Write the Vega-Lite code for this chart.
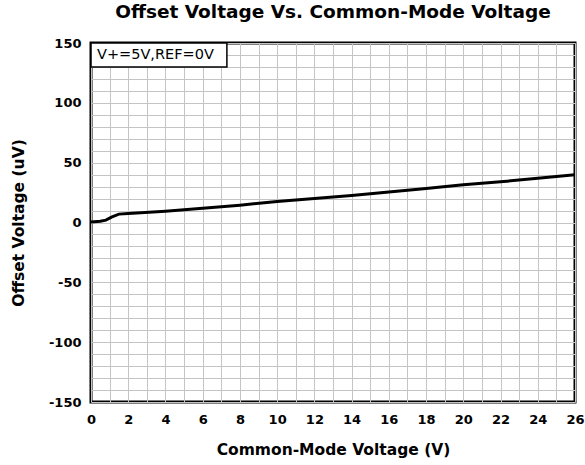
{
  "$schema": "https://vega.github.io/schema/vega-lite/v6.json",
  "autosize": "none",
  "width": 484,
  "height": 359,
  "padding": {"left": 91, "top": 43, "right": 10, "bottom": 63},
  "background": "white",
  "title": {
    "text": "Offset Voltage Vs. Common-Mode Voltage",
    "font": "DejaVu Sans",
    "fontSize": 18.5,
    "fontWeight": "bold",
    "color": "black",
    "anchor": "middle",
    "offset": 16
  },
  "config": {
    "view": {"stroke": "black", "strokeWidth": 3},
    "axis": {
      "labelFont": "DejaVu Sans",
      "labelFontWeight": "bold",
      "labelFontSize": 13,
      "labelColor": "black",
      "labelOverlap": false,
      "labelBound": false,
      "labelFlush": false,
      "tickCount": 100,
      "titleFont": "DejaVu Sans",
      "titleFontWeight": "bold",
      "titleFontSize": 15.5,
      "titleColor": "black",
      "grid": true,
      "gridColor": "#c4c4c4",
      "gridWidth": 1,
      "domain": false,
      "ticks": false
    }
  },
  "layer": [
    {
      "data": {
        "values": [
          {"vcm": 0, "vos": 0.5},
          {"vcm": 0.5, "vos": 1},
          {"vcm": 0.8, "vos": 2},
          {"vcm": 1.1, "vos": 4.5},
          {"vcm": 1.5, "vos": 7},
          {"vcm": 2, "vos": 7.5},
          {"vcm": 4, "vos": 9.5},
          {"vcm": 6, "vos": 12},
          {"vcm": 8, "vos": 14.5},
          {"vcm": 10, "vos": 17.5},
          {"vcm": 12, "vos": 20},
          {"vcm": 14, "vos": 22.5},
          {"vcm": 16, "vos": 25.5},
          {"vcm": 18, "vos": 28.5},
          {"vcm": 20, "vos": 31.5},
          {"vcm": 22, "vos": 34},
          {"vcm": 24, "vos": 37},
          {"vcm": 26, "vos": 40}
        ]
      },
      "mark": {"type": "line", "color": "black", "strokeWidth": 3, "clip": true},
      "encoding": {
        "x": {
          "field": "vcm",
          "type": "quantitative",
          "scale": {"domain": [0, 26], "nice": false, "zero": false},
          "axis": {
            "title": "Common-Mode Voltage (V)",
            "values": [0,1,2,3,4,5,6,7,8,9,10,11,12,13,14,15,16,17,18,19,20,21,22,23,24,25,26],
            "labelExpr": "datum.value % 2 === 0 ? '' + datum.value : ''",
            "labelPadding": 11,
            "titlePadding": 16
          }
        },
        "y": {
          "field": "vos",
          "type": "quantitative",
          "scale": {"domain": [-150, 150], "nice": false},
          "axis": {
            "title": "Offset Voltage (uV)",
            "values": [-150,-140,-130,-120,-110,-100,-90,-80,-70,-60,-50,-40,-30,-20,-10,0,10,20,30,40,50,60,70,80,90,100,110,120,130,140,150],
            "labelExpr": "datum.value % 50 === 0 ? '' + datum.value : ''",
            "labelPadding": 10,
            "titlePadding": 22
          }
        }
      }
    },
    {
      "data": {"values": [{"label": "V+=5V,REF=0V"}]},
      "mark": {"type": "rect", "fill": "white", "stroke": "black", "strokeWidth": 1.5},
      "encoding": {
        "x": {"datum": 0},
        "x2": {"datum": 7.3},
        "y": {"datum": 150},
        "y2": {"datum": 130}
      }
    },
    {
      "data": {"values": [{"label": "V+=5V,REF=0V"}]},
      "mark": {"type": "text", "font": "DejaVu Sans", "fontSize": 14.5, "align": "left", "baseline": "middle", "dx": 6, "color": "black"},
      "encoding": {
        "x": {"datum": 0},
        "y": {"datum": 140},
        "text": {"field": "label"}
      }
    }
  ]
}
